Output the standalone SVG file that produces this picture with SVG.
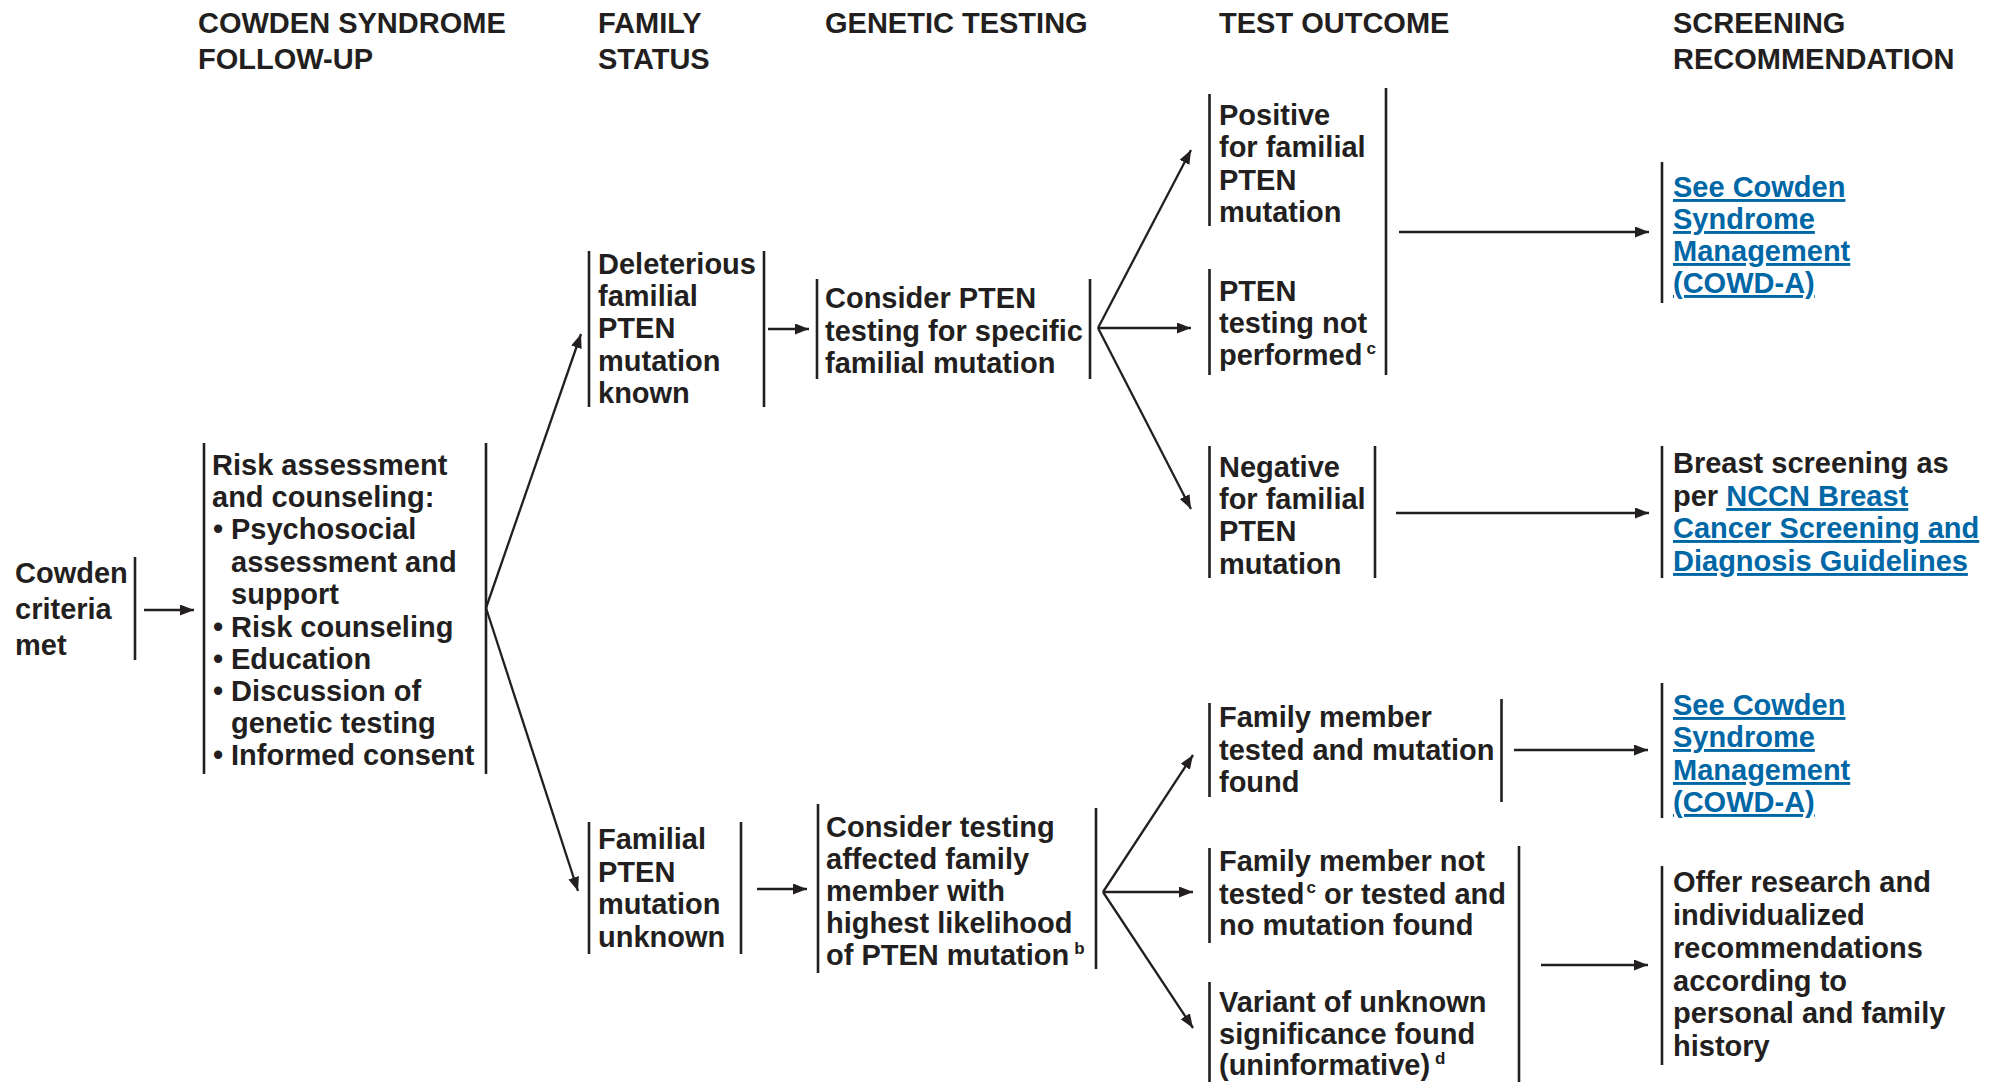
<svg xmlns="http://www.w3.org/2000/svg" width="1995" height="1082" viewBox="0 0 1995 1082">
<style>
  text { font-family: "Liberation Sans", Arial, Helvetica, sans-serif; font-weight: bold; font-size: 29px; fill: #231f20; }
  .lk { fill: #0067a6; text-decoration: underline; }
  .sup { font-size: 17px; }
  .bar { stroke: #231f20; stroke-width: 2.6; fill: none; }
  .con { stroke: #231f20; stroke-width: 2.3; fill: none; marker-end: url(#ah); }
</style>
<defs>
  <marker id="ah" markerUnits="userSpaceOnUse" markerWidth="15" markerHeight="12" refX="14" refY="5.5" orient="auto">
    <path d="M0,0 L14,5.5 L0,11 z" fill="#231f20"/>
  </marker>
</defs>
<rect width="1995" height="1082" fill="#ffffff"/>

<g id="headers">
  <text x="198" y="33">COWDEN SYNDROME</text>
  <text x="198" y="69">FOLLOW-UP</text>
  <text x="598" y="33">FAMILY</text>
  <text x="598" y="69">STATUS</text>
  <text x="825" y="33">GENETIC TESTING</text>
  <text x="1219" y="33">TEST OUTCOME</text>
  <text x="1673" y="33">SCREENING</text>
  <text x="1673" y="69">RECOMMENDATION</text>
</g>

<g id="connectors">
  <line class="con" x1="144" y1="610" x2="194" y2="610"/>
  <line class="con" x1="486" y1="608" x2="581" y2="334"/>
  <line class="con" x1="486" y1="608" x2="578" y2="891"/>
  <line class="con" x1="768" y1="329" x2="809" y2="329"/>
  <line class="con" x1="757" y1="889" x2="807" y2="889"/>
  <line class="con" x1="1098" y1="328" x2="1191" y2="150"/>
  <line class="con" x1="1098" y1="328" x2="1191" y2="328"/>
  <line class="con" x1="1098" y1="328" x2="1191" y2="509"/>
  <line class="con" x1="1103" y1="892" x2="1193" y2="755"/>
  <line class="con" x1="1103" y1="892" x2="1193" y2="892"/>
  <line class="con" x1="1103" y1="892" x2="1193" y2="1028"/>
  <line class="con" x1="1399" y1="232" x2="1649" y2="232"/>
  <line class="con" x1="1396" y1="513" x2="1649" y2="513"/>
  <line class="con" x1="1514" y1="750" x2="1648" y2="750"/>
  <line class="con" x1="1541" y1="965" x2="1648" y2="965"/>
</g>

<g id="cowden-criteria">
  <line class="bar" x1="135" y1="557" x2="135" y2="660"/>
  <text x="15" y="583">Cowden</text>
  <text x="15" y="619">criteria</text>
  <text x="15" y="655">met</text>
</g>

<g id="risk-assessment">
  <line class="bar" x1="204" y1="443" x2="204" y2="774"/>
  <line class="bar" x1="486" y1="443" x2="486" y2="774"/>
  <text x="212" y="475">Risk assessment</text>
  <text x="212" y="507">and counseling:</text>
  <text x="213" y="539">•<tspan x="231">Psychosocial</tspan></text>
  <text x="231" y="572">assessment and</text>
  <text x="231" y="604">support</text>
  <text x="213" y="637">•<tspan x="231">Risk counseling</tspan></text>
  <text x="213" y="669">•<tspan x="231">Education</tspan></text>
  <text x="213" y="701">•<tspan x="231">Discussion of</tspan></text>
  <text x="231" y="733">genetic testing</text>
  <text x="213" y="765">•<tspan x="231">Informed consent</tspan></text>
</g>

<g id="mutation-known">
  <line class="bar" x1="589" y1="251" x2="589" y2="407"/>
  <line class="bar" x1="764" y1="251" x2="764" y2="407"/>
  <text x="598" y="274">Deleterious</text>
  <text x="598" y="306">familial</text>
  <text x="598" y="338">PTEN</text>
  <text x="598" y="371">mutation</text>
  <text x="598" y="403">known</text>
</g>

<g id="mutation-unknown">
  <line class="bar" x1="589" y1="822" x2="589" y2="954"/>
  <line class="bar" x1="741" y1="822" x2="741" y2="954"/>
  <text x="598" y="849">Familial</text>
  <text x="598" y="882">PTEN</text>
  <text x="598" y="914">mutation</text>
  <text x="598" y="947">unknown</text>
</g>

<g id="consider-specific">
  <line class="bar" x1="817" y1="279" x2="817" y2="379"/>
  <line class="bar" x1="1090" y1="279" x2="1090" y2="379"/>
  <text x="825" y="308">Consider PTEN</text>
  <text x="825" y="341">testing for specific</text>
  <text x="825" y="373">familial mutation</text>
</g>

<g id="consider-affected">
  <line class="bar" x1="818" y1="804" x2="818" y2="973"/>
  <line class="bar" x1="1096" y1="808" x2="1096" y2="969"/>
  <text x="826" y="837">Consider testing</text>
  <text x="826" y="869">affected family</text>
  <text x="826" y="901">member with</text>
  <text x="826" y="933">highest likelihood</text>
  <text x="826" y="965">of PTEN mutation<tspan class="sup" dx="5" dy="-11">b</tspan></text>
</g>

<g id="positive">
  <line class="bar" x1="1209.5" y1="94" x2="1209.5" y2="226"/>
  <text x="1219" y="125">Positive</text>
  <text x="1219" y="157">for familial</text>
  <text x="1219" y="190">PTEN</text>
  <text x="1219" y="222">mutation</text>
</g>

<g id="not-performed">
  <line class="bar" x1="1209.5" y1="269" x2="1209.5" y2="375"/>
  <line class="bar" x1="1386" y1="88" x2="1386" y2="375"/>
  <text x="1219" y="301">PTEN</text>
  <text x="1219" y="333">testing not</text>
  <text x="1219" y="365">performed<tspan class="sup" dx="4" dy="-11">c</tspan></text>
</g>

<g id="negative">
  <line class="bar" x1="1209.5" y1="446" x2="1209.5" y2="578"/>
  <line class="bar" x1="1375" y1="446" x2="1375" y2="578"/>
  <text x="1219" y="477">Negative</text>
  <text x="1219" y="509">for familial</text>
  <text x="1219" y="541">PTEN</text>
  <text x="1219" y="574">mutation</text>
</g>

<g id="screen-cowd-a-1">
  <line class="bar" x1="1662" y1="162" x2="1662" y2="303"/>
  <text class="lk" x="1673" y="197">See Cowden</text>
  <text class="lk" x="1673" y="229">Syndrome</text>
  <text class="lk" x="1673" y="261">Management</text>
  <text class="lk" x="1673" y="293">(COWD-A)</text>
</g>

<g id="screen-breast">
  <line class="bar" x1="1662" y1="446" x2="1662" y2="578"/>
  <text x="1673" y="473">Breast screening as</text>
  <text x="1673" y="506">per <tspan class="lk">NCCN Breast</tspan></text>
  <text class="lk" x="1673" y="538">Cancer Screening and</text>
  <text class="lk" x="1673" y="571">Diagnosis Guidelines</text>
</g>

<g id="member-found">
  <line class="bar" x1="1209.5" y1="703" x2="1209.5" y2="797"/>
  <line class="bar" x1="1501.5" y1="699" x2="1501.5" y2="802"/>
  <text x="1219" y="727">Family member</text>
  <text x="1219" y="760">tested and mutation</text>
  <text x="1219" y="792">found</text>
</g>

<g id="member-not-tested">
  <line class="bar" x1="1209.5" y1="848" x2="1209.5" y2="943"/>
  <line class="bar" x1="1519" y1="846" x2="1519" y2="1082"/>
  <text x="1219" y="871">Family member not</text>
  <text x="1219" y="904">tested<tspan class="sup" dx="2" dy="-11">c</tspan><tspan dy="11"> or tested and</tspan></text>
  <text x="1219" y="935">no mutation found</text>
</g>

<g id="variant-unknown">
  <line class="bar" x1="1209.5" y1="982" x2="1209.5" y2="1082"/>
  <text x="1219" y="1012">Variant of unknown</text>
  <text x="1219" y="1044">significance found</text>
  <text x="1219" y="1075">(uninformative)<tspan class="sup" dx="5" dy="-11">d</tspan></text>
</g>

<g id="screen-cowd-a-2">
  <line class="bar" x1="1662" y1="683" x2="1662" y2="818"/>
  <text class="lk" x="1673" y="715">See Cowden</text>
  <text class="lk" x="1673" y="747">Syndrome</text>
  <text class="lk" x="1673" y="780">Management</text>
  <text class="lk" x="1673" y="812">(COWD-A)</text>
</g>

<g id="screen-offer">
  <line class="bar" x1="1662" y1="866" x2="1662" y2="1065"/>
  <text x="1673" y="892">Offer research and</text>
  <text x="1673" y="925">individualized</text>
  <text x="1673" y="958">recommendations</text>
  <text x="1673" y="991">according to</text>
  <text x="1673" y="1023">personal and family</text>
  <text x="1673" y="1056">history</text>
</g>
</svg>
